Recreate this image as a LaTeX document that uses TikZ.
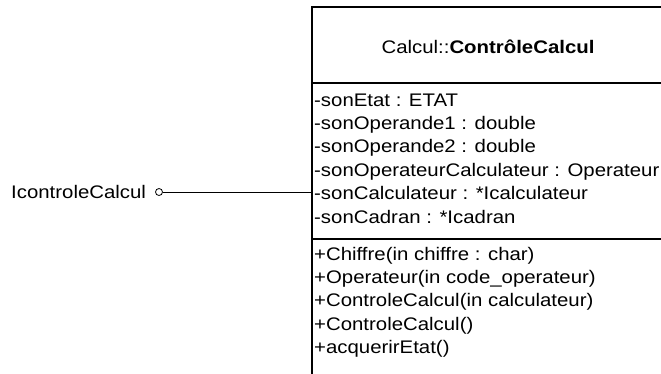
\documentclass[tikz,border=0pt]{standalone}
\usepackage{fontspec}
\setmainfont{Liberation Sans}[FakeStretch=1.12]
\begin{document}
\begin{tikzpicture}[x=1pt,y=-1pt,
  umltext/.style={anchor=base west, inner sep=0pt, font=\fontsize{18.2}{22}\selectfont},
  classbox/.style={draw, line width=1.6pt, rectangle, inner sep=0pt,
    minimum width=352pt, minimum height=393pt},
  boxline/.style={line width=1.6pt},
  lollipop/.style={circle, draw, line width=0.8pt, minimum size=7pt, inner sep=0pt},
  link/.style={line width=1pt}]
\useasboundingbox (0,0) rectangle (661,373);
\clip (0,0) rectangle (661,373);

% class box (runs past the page edge on the right and bottom)
\node[classbox] (cls) at (488,203.5) {};
\coordinate (hsep) at (0,83);
\coordinate (msep) at (0,239);
\draw[boxline] (cls.west |- hsep) -- (cls.east |- hsep);
\draw[boxline] (cls.west |- msep) -- (cls.east |- msep);

% class name
\node[umltext, anchor=base] (title) at (488,53) {Calcul::\textbf{ContrôleCalcul}};

% attributes
\node[umltext] (a1) at (314,106.0) {-sonEtat : ETAT};
\node[umltext] (a2) at (314,129.4) {-sonOperande1 : double};
\node[umltext] (a3) at (314,152.8) {-sonOperande2 : double};
\node[umltext] (a4) at (314,176.2) {-sonOperateurCalculateur : Operateur};
\node[umltext] (a5) at (314,199.6) {-sonCalculateur : *Icalculateur};
\node[umltext] (a6) at (314,223.0) {-sonCadran : *Icadran};

% operations
\node[umltext] (m1) at (314,260.0) {+Chiffre(in chiffre : char)};
\node[umltext] (m2) at (314,283.4) {+Operateur(in code\_operateur)};
\node[umltext] (m3) at (314,306.8) {+ControleCalcul(in calculateur)};
\node[umltext] (m4) at (314,330.2) {+ControleCalcul()};
\node[umltext] (m5) at (314,353.6) {+acquerirEtat()};

% provided interface
\node[lollipop] (iface) at (159,192) {};
\node[umltext] (ilabel) at (11,198) {IcontroleCalcul};
\draw[link] (iface) -- (iface -| cls.west);
\end{tikzpicture}
\end{document}
